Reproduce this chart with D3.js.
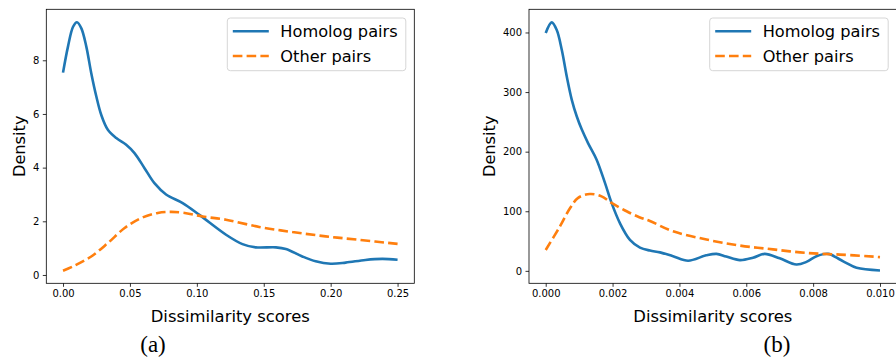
<!DOCTYPE html>
<html>
  <head>
    <meta charset="UTF-8">
    <title>Dissimilarity densities</title>
    <script src="https://d3js.org/d3.v7.min.js"></script>
    <style>
      body { margin: 0; background: #fff; }
      svg { display: block; }
      text { font-family: "DejaVu Sans", sans-serif; fill: #000; }
      .cap { font-family: "Liberation Serif", "DejaVu Serif", serif; }
    </style>
  </head>

  <body>
    <div class="chart"></div>

    <script type="application/javascript">
      // panel (a)
      const homologAx = [0, 0.0037, 0.0075, 0.0104, 0.0137, 0.0174, 0.0211, 0.0249, 0.0286, 0.0335, 0.0398, 0.0472, 0.0534, 0.0609, 0.0683, 0.077, 0.0894, 0.1019, 0.1218, 0.1341, 0.144, 0.159, 0.1665, 0.1788, 0.1888, 0.2, 0.2112, 0.226, 0.2385, 0.25];
      const homologAy = [7.54, 8.51, 9.25, 9.42, 9.19, 8.51, 7.52, 6.65, 5.96, 5.41, 5.1, 4.85, 4.54, 3.98, 3.42, 3.0, 2.68, 2.24, 1.5, 1.15, 1.03, 1.03, 0.97, 0.69, 0.51, 0.42, 0.46, 0.56, 0.6, 0.57];
      const otherAx = [0, 0.0087, 0.0211, 0.0335, 0.046, 0.0584, 0.0708, 0.08, 0.09, 0.1043, 0.1218, 0.1466, 0.1714, 0.1963, 0.221, 0.25];
      const otherAy = [0.16, 0.35, 0.69, 1.19, 1.75, 2.12, 2.31, 2.35, 2.32, 2.18, 2.06, 1.79, 1.6, 1.44, 1.31, 1.16];
      const xTicksA = [0, 0.05, 0.1, 0.15, 0.2, 0.25];
      const yTicksA = [0, 2, 4, 6, 8];

      // panel (b)
      const homologBx = [0, 0.00018, 0.00033, 0.00048, 0.00063, 0.00078, 0.00093, 0.00108, 0.00127, 0.00152, 0.00177, 0.00197, 0.00222, 0.00252, 0.00282, 0.00312, 0.00342, 0.00381, 0.00426, 0.0048, 0.00511, 0.0054, 0.00581, 0.0062, 0.00655, 0.007, 0.0075, 0.0078, 0.0081, 0.00845, 0.0088, 0.009, 0.0093, 0.01];
      const homologBy = [399, 417, 404, 371, 326, 287, 259, 237, 214, 187, 148, 114, 80, 52, 39, 34, 31, 24.5, 17, 26, 28.5, 24, 18, 22, 28.5, 21, 10.6, 15, 24.5, 28.5, 19, 13, 5, 0.5];
      const otherBx = [0, 0.00043, 0.00073, 0.00097, 0.00132, 0.00167, 0.00197, 0.00242, 0.0028, 0.0031, 0.00381, 0.00481, 0.00581, 0.0068, 0.0078, 0.0088, 0.0099, 0.01];
      const otherBy = [35, 75, 105.6, 122.4, 129, 125, 114, 100, 90, 84, 66.4, 52.5, 42.4, 36, 30, 27.3, 23.5, 23];
      const xTicksB = [0, 0.002, 0.004, 0.006, 0.008, 0.010];
      const yTicksB = [0, 100, 200, 300, 400];

      const seriesNames = ["Homolog pairs", "Other pairs"];
      const blue = "#1f77b4", orange = "#ff7f0e";

      const svg = d3.select(".chart").append("svg")
              .attr("width", 896)
              .attr("height", 362)

      function zip(xs, ys) {
        return xs.map((x, i) => [x, ys[i]])
      }

      function panel(opts) {
        const x = d3.scaleLinear().domain(opts.xDomain).range([opts.left, opts.right]);
        const y = d3.scaleLinear().domain(opts.yDomain).range([opts.bottom, opts.top]);
        const g = svg.append("g")

        const line = d3.line()
                .x(d => x(d[0]))
                .y(d => y(d[1]))
                .curve(d3.curveCatmullRom.alpha(0.5))

        g.append("path")
                .attr("d", line(zip(opts.homX, opts.homY)))
                .attr("fill", "none")
                .attr("stroke", blue)
                .attr("stroke-width", 2.6)
        g.append("path")
                .attr("d", line(zip(opts.othX, opts.othY)))
                .attr("fill", "none")
                .attr("stroke", orange)
                .attr("stroke-width", 2.6)
                .attr("stroke-dasharray", "9.6,4.2")

        // frame
        g.append("rect")
                .attr("x", opts.left).attr("y", opts.top)
                .attr("width", opts.right - opts.left)
                .attr("height", opts.bottom - opts.top)
                .attr("fill", "none")
                .attr("stroke", "#000")
                .attr("stroke-width", 0.8)

        const xAxis = g.append("g")
                .attr("transform", `translate(0, ${opts.bottom})`)
                .call(d3.axisBottom(x).tickValues(opts.xTicks).tickFormat(d3.format(opts.xFmt))
                        .tickSizeInner(3.5).tickSizeOuter(0).tickPadding(3.5))
        const yAxis = g.append("g")
                .attr("transform", `translate(${opts.left}, 0)`)
                .call(d3.axisLeft(y).tickValues(opts.yTicks).tickFormat(d3.format("d"))
                        .tickSizeInner(3.5).tickSizeOuter(0).tickPadding(3.5))
        for (const ax of [xAxis, yAxis]) {
          ax.select(".domain").remove()
          ax.selectAll("text").attr("font-size", 10).attr("font-family", "DejaVu Sans").attr("fill", "#000")
          ax.selectAll("line").attr("stroke-width", 0.8)
        }

        g.append("text")
                .attr("x", (opts.left + opts.right) / 2)
                .attr("y", 322)
                .attr("text-anchor", "middle")
                .attr("font-size", 16.4)
                .text("Dissimilarity scores")
        g.append("text")
                .attr("transform", `translate(${opts.ylabelX}, ${(opts.top + opts.bottom) / 2}) rotate(-90)`)
                .attr("text-anchor", "middle")
                .attr("font-size", 16.2)
                .text("Density")

        // legend
        const lg = g.append("g").attr("transform", `translate(${opts.legendX}, 18)`)
        lg.append("rect")
                .attr("x", 0).attr("y", 0)
                .attr("width", 178.5).attr("height", 52.7)
                .attr("rx", 3)
                .attr("fill", "#fff").attr("fill-opacity", 0.8)
                .attr("stroke", "#d6d6d6").attr("stroke-width", 1)
        seriesNames.forEach((name, i) => {
          const cy = 13.3 + i * 24.7
          lg.append("line")
                  .attr("x1", 5.5).attr("x2", 41.5)
                  .attr("y1", cy).attr("y2", cy)
                  .attr("stroke", i == 0 ? blue : orange)
                  .attr("stroke-width", 2.6)
                  .attr("stroke-dasharray", i == 0 ? null : "9.6,4.2")
          lg.append("text")
                  .attr("x", 53)
                  .attr("y", cy + 5.8)
                  .attr("font-size", 16.2)
                  .text(name)
        })

        svg.append("text")
                .attr("class", "cap")
                .attr("x", opts.capX)
                .attr("y", 352)
                .attr("text-anchor", "middle")
                .attr("font-size", 23)
                .text(opts.cap)
      }

      panel({
        left: 46.3, right: 414.3, top: 9.3, bottom: 283.3,
        xDomain: [-0.0125, 0.2625], yDomain: [-0.31, 9.9],
        homX: homologAx, homY: homologAy, othX: otherAx, othY: otherAy,
        xTicks: xTicksA, yTicks: yTicksA, xFmt: ".2f",
        ylabelX: 25, legendX: 227.3, capX: 153, cap: "(a)"
      })
      panel({
        left: 529, right: 896.7, top: 9.3, bottom: 283.3,
        xDomain: [-0.0005, 0.0105], yDomain: [-20.9, 438.9],
        homX: homologBx, homY: homologBy, othX: otherBx, othY: otherBy,
        xTicks: xTicksB, yTicks: yTicksB, xFmt: ".3f",
        ylabelX: 495, legendX: 709.7, capX: 777, cap: "(b)"
      })
    </script>
  </body>

</html>
